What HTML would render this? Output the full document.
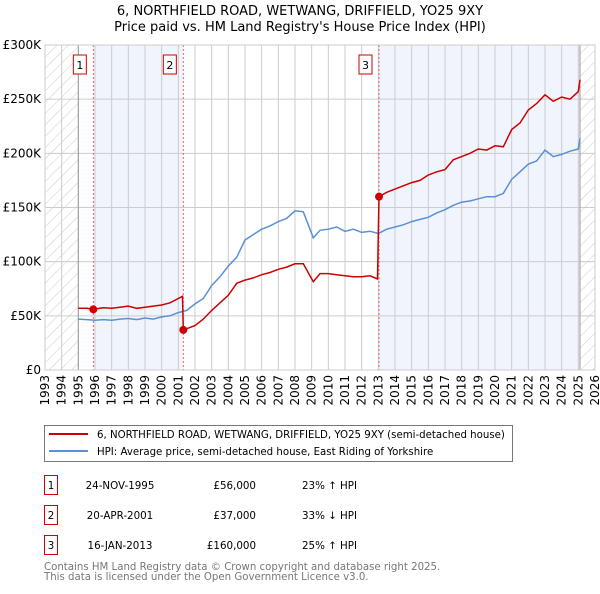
<!DOCTYPE html>
<html><head><meta charset="utf-8">
<style>
body{margin:0;background:#fff;font-family:"DejaVu Sans","Liberation Sans",sans-serif;}
svg text{font-family:"DejaVu Sans","Liberation Sans",sans-serif;}
</style></head>
<body>
<svg id="chart" width="600" height="590" viewBox="0 0 600 590" xmlns="http://www.w3.org/2000/svg">
<defs>
<pattern id="hatch" patternUnits="userSpaceOnUse" width="8" height="8" patternTransform="rotate(45)">
<line x1="0" y1="0" x2="0" y2="8" stroke="#ccc" stroke-width="1"/>
</pattern>
</defs>
<text x="300" y="15" text-anchor="middle" font-size="13">6, NORTHFIELD ROAD, WETWANG, DRIFFIELD, YO25 9XY</text>
<text x="300" y="31" text-anchor="middle" font-size="13">Price paid vs. HM Land Registry's House Price Index (HPI)</text>
<g id="plot"></g>
<g id="legend">
<rect x="44.5" y="425.5" width="468" height="36" fill="#fff" stroke="#777"/>
<line x1="49" y1="434" x2="88" y2="434" stroke="#cc0000" stroke-width="2"/>
<text x="97" y="438" font-size="10.2">6, NORTHFIELD ROAD, WETWANG, DRIFFIELD, YO25 9XY (semi-detached house)</text>
<line x1="49" y1="451" x2="88" y2="451" stroke="#5b8fd6" stroke-width="2"/>
<text x="97" y="455" font-size="10.2">HPI: Average price, semi-detached house, East Riding of Yorkshire</text>
</g>
<g id="table" font-size="10.3"></g>
<text x="44" y="570" font-size="10.2" fill="#777">Contains HM Land Registry data © Crown copyright and database right 2025.</text>
<text x="44" y="580" font-size="10.2" fill="#777">This data is licensed under the Open Government Licence v3.0.</text>
</svg>
<script>
const yearTicks=[1993,1994,1995,1996,1997,1998,1999,2000,2001,2002,2003,2004,2005,2006,2007,2008,2009,2010,2011,2012,2013,2014,2015,2016,2017,2018,2019,2020,2021,2022,2023,2024,2025,2026];
const valueTicks=[0,50000,100000,150000,200000,250000,300000];
const valueTickLabels=["£0","£50K","£100K","£150K","£200K","£250K","£300K"];
const hpiYears=[1995,1995.5,1996,1996.5,1997,1997.5,1998,1998.5,1999,1999.5,2000,2000.5,2001,2001.5,2002,2002.5,2003,2003.5,2004,2004.5,2005,2005.5,2006,2006.5,2007,2007.5,2008,2008.5,2009.1,2009.5,2010,2010.5,2011,2011.5,2012,2012.5,2013,2013.5,2014,2014.5,2015,2015.5,2016,2016.5,2017,2017.5,2018,2018.5,2019,2019.5,2020,2020.5,2021,2021.5,2022,2022.5,2023,2023.5,2024,2024.5,2025,2025.1];
const hpiValues=[47,46.5,46,46.5,46,47,47.5,46.5,48,47,49,50,53,55,61,66,78,86,96,104,120,125,130,133,137,140,147,146,122,129,130,132,128,130,127,128,126,130,132,134,137,139,141,145,148,152,155,156,158,160,160,163,176,183,190,193,203,197,199,202,204,214];
const propYears=[1995,1995.5,1995.9,1996.5,1997,1997.5,1998,1998.5,1999,1999.5,2000,2000.5,2001,2001.25,2001.3,2002,2002.5,2003,2003.5,2004,2004.5,2005,2005.5,2006,2006.5,2007,2007.5,2008,2008.5,2009.1,2009.5,2010,2010.5,2011,2011.5,2012,2012.5,2012.95,2013.04,2013.5,2014,2014.5,2015,2015.5,2016,2016.5,2017,2017.5,2018,2018.5,2019,2019.5,2020,2020.5,2021,2021.5,2022,2022.5,2023,2023.5,2024,2024.5,2025,2025.1];
const propValues=[57,57,56,57.5,57,58,59,57,58,59,60,62,66,68,37,41,47,55,62,69,80,83,85,88,90,93,95,98,98,81.5,89,89,88,87,86,86,87,84,160,164,167,170,173,175,180,183,185,194,197,200,204,203,207,206,222,228,240,246,254,248,252,250,257,268];
const saleYears=[1995.9,2001.3,2013.04];
const saleValues=[56,37,160];
const saleLabels=["1","2","3"];
const saleDates=["24-NOV-1995","20-APR-2001","16-JAN-2013"];
const salePrices=["£56,000","£37,000","£160,000"];
const saleHpi=["23% ↑ HPI","33% ↓ HPI","25% ↑ HPI"];

const NS="http://www.w3.org/2000/svg";
const X0=45,X1=595,Y0=370,Y1=45;
const xs=y=>X0+(y-1993)/(2026-1993)*(X1-X0);
const ys=v=>Y0-v/300000*(Y0-Y1);
function mk(tag,attrs,parent){const e=document.createElementNS(NS,tag);for(const k in attrs)e.setAttribute(k,attrs[k]);parent.appendChild(e);return e;}
const plot=document.getElementById('plot');
let r=mk('rect',{x:xs(saleYears[0]),y:Y1,width:xs(saleYears[1])-xs(saleYears[0]),height:Y0-Y1,fill:'#f0f4fc'},plot);


r=mk('rect',{x:xs(saleYears[2]),y:Y1,width:xs(2025.1)-xs(saleYears[2]),height:Y0-Y1,fill:'#f0f4fc'},plot);


r=mk('rect',{x:X0,y:Y1,width:xs(1995)-X0,height:Y0-Y1,fill:'url(#hatch)'},plot);


r=mk('rect',{x:xs(2025.1),y:Y1,width:X1-xs(2025.1),height:Y0-Y1,fill:'url(#hatch)'},plot);


yearTicks.forEach(yr=>{
 const g=mk('line',{x1:xs(yr),x2:xs(yr),y1:Y1,y2:Y0,stroke:'#ccc','stroke-width':1},plot);
 
 
 const tx=xs(yr)+4, ty=375;
 const t=mk('text',{x:tx,y:ty,'text-anchor':'end','font-size':12,transform:'rotate(-90 '+tx+' '+ty+')'},plot);
 t.textContent=yr;
 
 
});
valueTicks.forEach((v,i)=>{
 const g=mk('line',{x1:X0,x2:X1,y1:ys(v),y2:ys(v),stroke:'#ccc','stroke-width':1},plot);
 
 
 const t=mk('text',{x:41,y:ys(v)+4,'text-anchor':'end','font-size':12},plot);
 t.textContent=valueTickLabels[i];
 
 
});
let b=mk('line',{x1:xs(1995),x2:xs(1995),y1:Y1,y2:Y0,stroke:'#999'},plot);


b=mk('line',{x1:xs(2025.1),x2:xs(2025.1),y1:Y1,y2:Y0,stroke:'#999'},plot);


saleYears.forEach((yr,i)=>{
 const l=mk('line',{x1:xs(yr),x2:xs(yr),y1:Y1,y2:Y0,stroke:'#f06060','stroke-dasharray':'2,2','stroke-width':1},plot);
 
 
});
let hp=hpiYears.map((y,i)=>xs(y).toFixed(1)+','+ys(hpiValues[i]*1000).toFixed(1)).join(' ');
let pl=mk('polyline',{points:hp,fill:'none',stroke:'#5b8fd6','stroke-width':1.5},plot);


let pp=propYears.map((y,i)=>xs(y).toFixed(1)+','+ys(propValues[i]*1000).toFixed(1)).join(' ');
pl=mk('polyline',{points:pp,fill:'none',stroke:'#cc0000','stroke-width':1.5},plot);


saleYears.forEach((yr,i)=>{
 const c=mk('circle',{cx:xs(yr),cy:ys(saleValues[i]*1000),r:4,fill:'#cc0000'},plot);
 
 
 const bx=mk('rect',{x:xs(yr)-20,y:55,width:13,height:19,fill:'#fff',stroke:'#cc0000'},plot);
 
 
 const t=mk('text',{x:xs(yr)-13.5,y:69,'text-anchor':'middle','font-size':11},plot);
 t.textContent=saleLabels[i];
 
 
});
let fr=mk('rect',{x:X0,y:Y1,width:X1-X0,height:Y0-Y1,fill:'none',stroke:'#ccc'},plot);


const tb=document.getElementById('table');
saleLabels.forEach((lab,i)=>{
 const cy=483+i*30;
 const bx=mk('rect',{x:44.5,y:cy-7.5,width:13,height:19,fill:'#fff',stroke:'#cc0000'},tb);
 
 
 let t=mk('text',{x:51,y:cy+6,'text-anchor':'middle'},tb);t.textContent=lab;
 
 
 t=mk('text',{x:120,y:cy+6,'text-anchor':'middle'},tb);t.textContent=saleDates[i];
 
 
 t=mk('text',{x:256,y:cy+6,'text-anchor':'end'},tb);t.textContent=salePrices[i];
 
 
 t=mk('text',{x:302,y:cy+6},tb);t.textContent=saleHpi[i];
 
 
});
</script>
</body></html>
